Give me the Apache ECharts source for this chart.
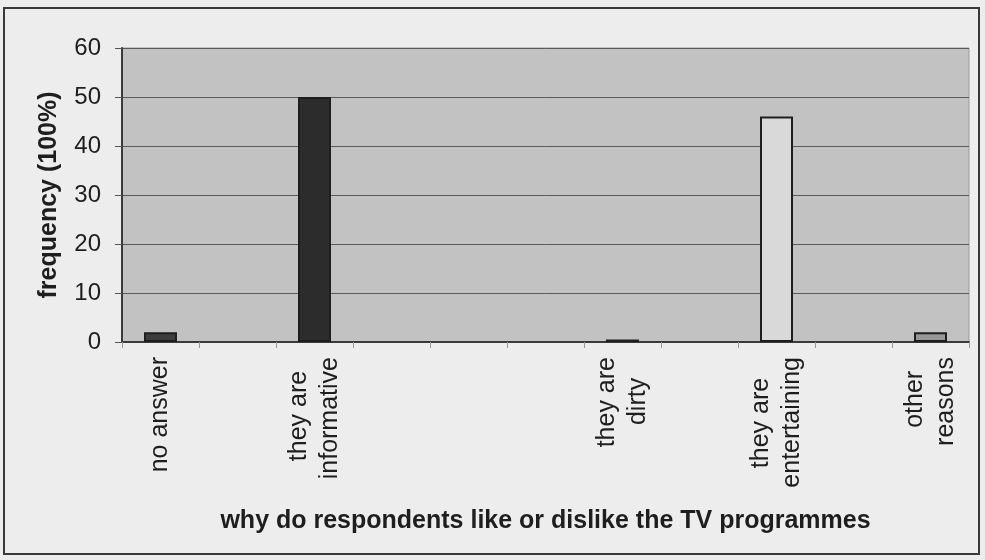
<!DOCTYPE html>
<html>
<head>
<meta charset="utf-8">
<script src="https://cdn.jsdelivr.net/npm/echarts@6/dist/echarts.min.js"></script>
<style>
  html, body { margin: 0; padding: 0; background: #ededed; }
  #chart { width: 985px; height: 560px; }
</style>
</head>
<body>
<div id="chart"></div>
<script>
// categories (empty slots keep the spacing of the original chart)
const categories = [
  'no answer', '', 'they are  \ninformative', '', '', '',
  'they are\ndirty   ', '', 'they are   \nentertaining', '', 'other  \nreasons',
];
// frequency values
const values = [2, null, 50, null, null, null, 0.5, null, 46, null, 2];
// bar colours, one per category
const barColors = ['#3c3c3c', null, '#2c2c2c', null, null, null, '#333333', null, '#d9d9d9', null, '#979797'];
const yTicks = [0, 10, 20, 30, 40, 50, 60];

const font = '"Liberation Sans", Arial, sans-serif';
const chart = echarts.init(document.getElementById('chart'));

const option = {
  backgroundColor: '#ededed',
  animation: false,
  graphic: [
    {
      type: 'rect',
      shape: { x: 4, y: 8, width: 975, height: 546 },
      style: { fill: 'none', stroke: '#3a3a3a', lineWidth: 2 },
      silent: true,
    },
  ],
  grid: {
    left: 122,
    right: 16,
    top: 48,
    bottom: 218,
    show: true,
    backgroundColor: '#c2c2c2',
    borderColor: '#9a9a9a',
    borderWidth: 1,
  },
  xAxis: {
    type: 'category',
    data: categories,
    name: 'why do respondents like or dislike the TV programmes',
    nameLocation: 'middle',
    nameGap: 167,
    nameTextStyle: { fontFamily: font, fontSize: 25, fontWeight: 'bold', color: '#1e1e1e' },
    axisLine: { lineStyle: { color: '#3a3a3a', width: 2 } },
    axisTick: { show: true, length: 6, lineStyle: { color: '#999999' } },
    axisLabel: {
      interval: 0,
      rotate: 90,
      margin: 15,
      fontFamily: font,
      fontSize: 25,
      lineHeight: 31,
      color: '#1e1e1e',
    },
  },
  yAxis: {
    type: 'value',
    min: 0,
    max: 60,
    interval: 10,
    name: 'frequency (100%)',
    nameLocation: 'middle',
    nameGap: 60,
    nameTextStyle: { fontFamily: font, fontSize: 25, fontWeight: 'bold', color: '#1e1e1e' },
    axisLine: { show: true, lineStyle: { color: '#3a3a3a', width: 2 } },
    axisTick: { show: true, length: 7, lineStyle: { color: '#555555' } },
    axisLabel: {
      margin: 21,
      fontFamily: font,
      fontSize: 24,
      color: '#1e1e1e',
      formatter: (v) => (yTicks.includes(v) ? String(v) : ''),
    },
    splitLine: { show: true, lineStyle: { color: '#5a5a5a', width: 1 } },
  },
  series: [
    {
      type: 'bar',
      barWidth: 33,
      data: values.map((v, i) => ({
        value: v,
        itemStyle: { color: barColors[i] || '#333333', borderColor: '#1e1e1e', borderWidth: 2 },
      })),
    },
  ],
};

chart.setOption(option);
</script>
</body>
</html>
